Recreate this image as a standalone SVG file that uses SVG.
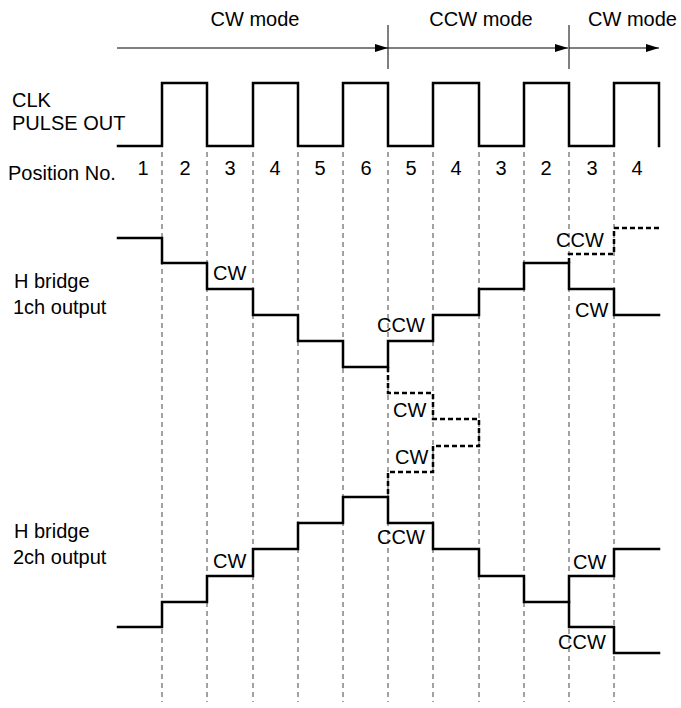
<svg xmlns="http://www.w3.org/2000/svg" width="681" height="708" viewBox="0 0 681 708">
<style>
text{font-family:"Liberation Sans",Arial,sans-serif;font-size:20px;fill:#000}
.wave{fill:none;stroke:#000;stroke-width:2.5;stroke-linejoin:miter;stroke-linecap:square}
.dwave{fill:none;stroke:#000;stroke-width:2.5;stroke-dasharray:5,3}
.grid{stroke:#444;stroke-width:1;stroke-dasharray:5,4}
.thin{stroke:#000;stroke-width:1;fill:none}
</style>
<defs>
<marker id="ah" markerWidth="13" markerHeight="8" refX="13" refY="4" orient="auto" markerUnits="userSpaceOnUse">
<path d="M0,0 L13,4 L0,8 Z" fill="#000"/>
</marker>
</defs>
<rect width="681" height="708" fill="#fff"/>
<g id="grid">
<line class="grid" x1="162" y1="152" x2="162" y2="702"/>
<line class="grid" x1="207" y1="152" x2="207" y2="702"/>
<line class="grid" x1="253" y1="152" x2="253" y2="702"/>
<line class="grid" x1="298" y1="152" x2="298" y2="702"/>
<line class="grid" x1="343" y1="152" x2="343" y2="702"/>
<line class="grid" x1="388" y1="152" x2="388" y2="702"/>
<line class="grid" x1="433" y1="152" x2="433" y2="702"/>
<line class="grid" x1="479" y1="152" x2="479" y2="702"/>
<line class="grid" x1="524" y1="152" x2="524" y2="702"/>
<line class="grid" x1="569" y1="152" x2="569" y2="702"/>
<line class="grid" x1="614" y1="152" x2="614" y2="702"/>
</g>
<g id="connectors">
<line class="thin" x1="117" y1="48" x2="388" y2="48" marker-end="url(#ah)"/>
<line class="thin" x1="388" y1="48" x2="568" y2="48" marker-end="url(#ah)"/>
<line class="thin" x1="569" y1="48" x2="659" y2="48" marker-end="url(#ah)"/>
<line class="thin" x1="388" y1="25" x2="388" y2="69"/>
<line class="thin" x1="569" y1="25" x2="569" y2="69"/>
</g>
<g id="mode-labels">
<text x="255" y="26" text-anchor="middle">CW mode</text>
<text x="481" y="26" text-anchor="middle">CCW mode</text>
<text x="588" y="26">CW mode</text>
</g>
<g id="clk">
<text x="12" y="107">CLK</text>
<text x="12" y="130">PULSE OUT</text>
<path class="wave" d="M118,146 H162 V83 H207 V146 H253 V83 H298 V146 H343 V83 H388 V146 H433 V83 H479 V146 H524 V83 H569 V146 H614 V83 H659 V146"/>
</g>
<g id="positions">
<text x="8" y="180">Position No.</text>
<g text-anchor="middle">
<text x="143" y="175">1</text>
<text x="185" y="175">2</text>
<text x="230" y="175">3</text>
<text x="275" y="175">4</text>
<text x="320" y="175">5</text>
<text x="366" y="175">6</text>
<text x="411" y="175">5</text>
<text x="456" y="175">4</text>
<text x="501" y="175">3</text>
<text x="546" y="175">2</text>
<text x="592" y="175">3</text>
<text x="637" y="175">4</text>
</g>
</g>
<g id="h1">
<text x="14" y="288">H bridge</text>
<text x="13" y="314">1ch output</text>
<path class="wave" d="M118,238 H162 V263 H207 V289 H253 V315 H298 V341 H343 V367 H388 V341 H433 V315 H479 V289 H524 V263 H569 V289 H614 V315 H659"/>
<path class="dwave" d="M569,263 V254 H614 V228 H659"/>
<text x="213" y="280">CW</text>
<text x="377" y="332">CCW</text>
<text x="556" y="247">CCW</text>
<text x="575" y="317">CW</text>
</g>
<g id="transition">
<path class="dwave" d="M388,367 V393 H433 V419 H479 V446 H433 V472 H388 V497"/>
<text x="393" y="417">CW</text>
<text x="395" y="464">CW</text>
</g>
<g id="h2">
<text x="14" y="538">H bridge</text>
<text x="13" y="564">2ch output</text>
<path class="wave" d="M118,627 H162 V602 H207 V576 H253 V549 H298 V523 H343 V497 H388 V523 H433 V549 H479 V576 H524 V602 H569 V576 H614 V549 H659"/>
<path class="wave" d="M569,602 V627 H614 V653 H659"/>
<text x="213" y="568">CW</text>
<text x="377" y="544">CCW</text>
<text x="573" y="569">CW</text>
<text x="558" y="649">CCW</text>
</g>
</svg>
